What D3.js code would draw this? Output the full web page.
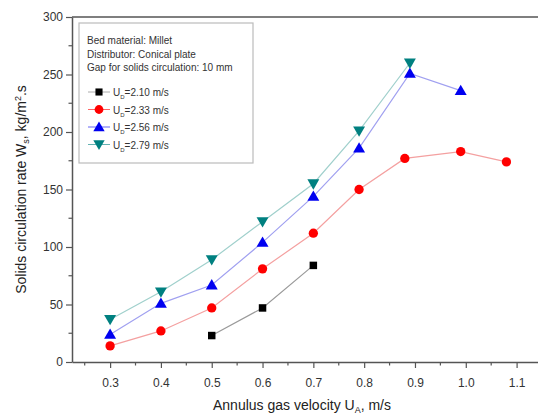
<!DOCTYPE html>
<html>
<head>
<meta charset="utf-8">
<script src="https://cdn.jsdelivr.net/npm/d3@7"></script>
<style>
  body { margin: 0; background: #fff; }
  svg { font-family: "Liberation Sans", Arial, sans-serif; }
</style>
</head>
<body>
<div id="chart"></div>
<script>
// data
const xTicks = [0.3, 0.4, 0.5, 0.6, 0.7, 0.8, 0.9, 1.0, 1.1];
const yTicks = [0, 50, 100, 150, 200, 250, 300];

const ua210 = [0.5, 0.6, 0.7];
const ws210 = [23, 47, 84];

const ua233 = [0.3, 0.4, 0.5, 0.6, 0.7, 0.79, 0.88, 0.99, 1.08];
const ws233 = [14, 27, 47, 81, 112, 150, 177, 183, 174];

const ua256 = [0.3, 0.4, 0.5, 0.6, 0.7, 0.79, 0.89, 0.99];
const ws256 = [24, 51, 67, 104, 144, 186, 251, 236];

const ua279 = [0.3, 0.4, 0.5, 0.6, 0.7, 0.79, 0.89];
const ws279 = [37, 61, 89, 122, 155, 201, 260];

const seriesLabels = ["2.10 m/s", "2.33 m/s", "2.56 m/s", "2.79 m/s"];
const infoLines = ["Bed material: Millet", "Distributor: Conical plate", "Gap for solids circulation: 10 mm"];

const series = [
  { label: seriesLabels[0], x: ua210, y: ws210, line: "#9a9a9a", key: "#777", fill: "#000", shape: d3.symbolSquare, size: 56, rot: 0 },
  { label: seriesLabels[1], x: ua233, y: ws233, line: "#f4a0a0", key: "#f00", fill: "#f00", shape: d3.symbolCircle, size: 68, rot: 0 },
  { label: seriesLabels[2], x: ua256, y: ws256, line: "#a0a0f0", key: "#0000f0", fill: "#0000f0", shape: d3.symbolTriangle, size: 62, rot: 0 },
  { label: seriesLabels[3], x: ua279, y: ws279, line: "#a0d0cc", key: "#008080", fill: "#008080", shape: d3.symbolTriangle, size: 62, rot: 180 }
];

const W = 538, H = 418;
const m = { left: 72, top: 17, right: -4, bottom: 56 };

const svg = d3.select("#chart").append("svg")
  .attr("width", W).attr("height", H);

const x = d3.scaleLinear().domain([0.225, 1.15]).range([m.left, W - m.right]);
const y = d3.scaleLinear().domain([0, 300]).range([H - m.bottom, m.top]);

const axisColor = "#555";

// top border of the frame
svg.append("line")
  .attr("x1", m.left).attr("x2", W - m.right)
  .attr("y1", m.top).attr("y2", m.top)
  .attr("stroke", axisColor).attr("stroke-width", 1.5);

// minor tick positions
const xMinor = d3.range(0.25, 1.16, 0.1);
const yMinor = d3.range(25, 300, 50);

const xAxis = svg.append("g")
  .attr("transform", `translate(0,${y(0)})`)
  .call(d3.axisBottom(x).tickValues(xTicks).tickFormat(d3.format(".1f")).tickSize(6).tickSizeOuter(0));
svg.append("g")
  .attr("transform", `translate(0,${y(0)})`)
  .selectAll("line").data(xMinor).join("line")
  .attr("x1", d => x(d)).attr("x2", d => x(d))
  .attr("y1", 0).attr("y2", 3.5)
  .attr("stroke", axisColor).attr("stroke-width", 1.2);

const yAxis = svg.append("g")
  .attr("transform", `translate(${m.left},0)`)
  .call(d3.axisLeft(y).tickValues(yTicks).tickSize(6).tickSizeOuter(0));
svg.append("g")
  .attr("transform", `translate(${m.left},0)`)
  .selectAll("line").data(yMinor).join("line")
  .attr("x1", -3.5).attr("x2", 0)
  .attr("y1", d => y(d)).attr("y2", d => y(d))
  .attr("stroke", axisColor).attr("stroke-width", 1.2);

[xAxis, yAxis].forEach(g => {
  g.select(".domain").attr("stroke", axisColor).attr("stroke-width", 1.5);
  g.selectAll(".tick line").attr("stroke", axisColor).attr("stroke-width", 1.2);
  g.selectAll(".tick text").attr("fill", "#333").style("font-size", "12px")
    .style("font-family", "Liberation Sans, Arial, sans-serif");
});
xAxis.selectAll(".tick text").attr("dy", "1.3em");
yAxis.selectAll(".tick text").attr("x", -9);

// axis titles
const xt = svg.append("text")
  .attr("x", 302).attr("y", 410)
  .attr("text-anchor", "middle").attr("fill", "#222")
  .style("font-size", "14px");
xt.append("tspan").text("Annulus gas velocity U");
xt.append("tspan").attr("dy", 3).style("font-size", "9px").text("A");
xt.append("tspan").attr("dy", -3).text(", m/s");

const yt = svg.append("text")
  .attr("transform", `translate(26,${(y(0) + y(300)) / 2}) rotate(-90)`)
  .attr("text-anchor", "middle").attr("fill", "#222")
  .style("font-size", "14px");
yt.append("tspan").text("Solids circulation rate W");
yt.append("tspan").attr("dy", 3).style("font-size", "9px").text("s");
yt.append("tspan").attr("dy", -3).text(", kg/m");
yt.append("tspan").attr("dy", -5).style("font-size", "9px").text("2");
yt.append("tspan").attr("dy", 5).text(".s");

// lines and markers
const plot = svg.append("g");
const nudge = s => s.shape === d3.symbolTriangle ? (s.rot ? -1 : 1) : 0;
series.forEach(s => {
  const pts = s.x.map((v, i) => [v, s.y[i]]);
  plot.append("path")
    .datum(pts)
    .attr("fill", "none")
    .attr("stroke", s.line)
    .attr("stroke-width", 1.2)
    .attr("d", d3.line().x(d => x(d[0])).y(d => y(d[1])));
  plot.selectAll(null).data(pts).join("path")
    .attr("d", d3.symbol().type(s.shape).size(s.size))
    .attr("transform", d => `translate(${x(d[0])},${y(d[1]) + nudge(s)}) rotate(${s.rot})`)
    .attr("fill", s.fill);
});

// legend box
const lg = svg.append("g").attr("transform", "translate(79,23)");
lg.append("rect")
  .attr("width", 174).attr("height", 140)
  .attr("fill", "#fff").attr("stroke", "#bbb").attr("stroke-width", 1.2);
infoLines.forEach((t, i) => {
  lg.append("text")
    .attr("x", 8).attr("y", 21 + i * 13.5)
    .attr("fill", "#333").style("font-size", "10px").text(t);
});
series.forEach((s, i) => {
  const gy = 69 + i * 17.5;
  const g = lg.append("g").attr("transform", `translate(0,${gy})`);
  g.append("line").attr("x1", 9).attr("x2", 31).attr("y1", 0).attr("y2", 0)
    .attr("stroke", s.key).attr("stroke-width", 1).attr("opacity", 0.6);
  g.append("path")
    .attr("d", d3.symbol().type(s.shape).size(s.size * 0.9))
    .attr("transform", `translate(20,${nudge(s)}) rotate(${s.rot})`)
    .attr("fill", s.fill);
  const t = g.append("text").attr("x", 34).attr("y", 4).attr("fill", "#333").style("font-size", "10px");
  t.append("tspan").text("U");
  t.append("tspan").attr("dy", 3).style("font-size", "6px").text("D");
  t.append("tspan").attr("dy", -3).text("=" + s.label);
});
</script>
</body>
</html>
